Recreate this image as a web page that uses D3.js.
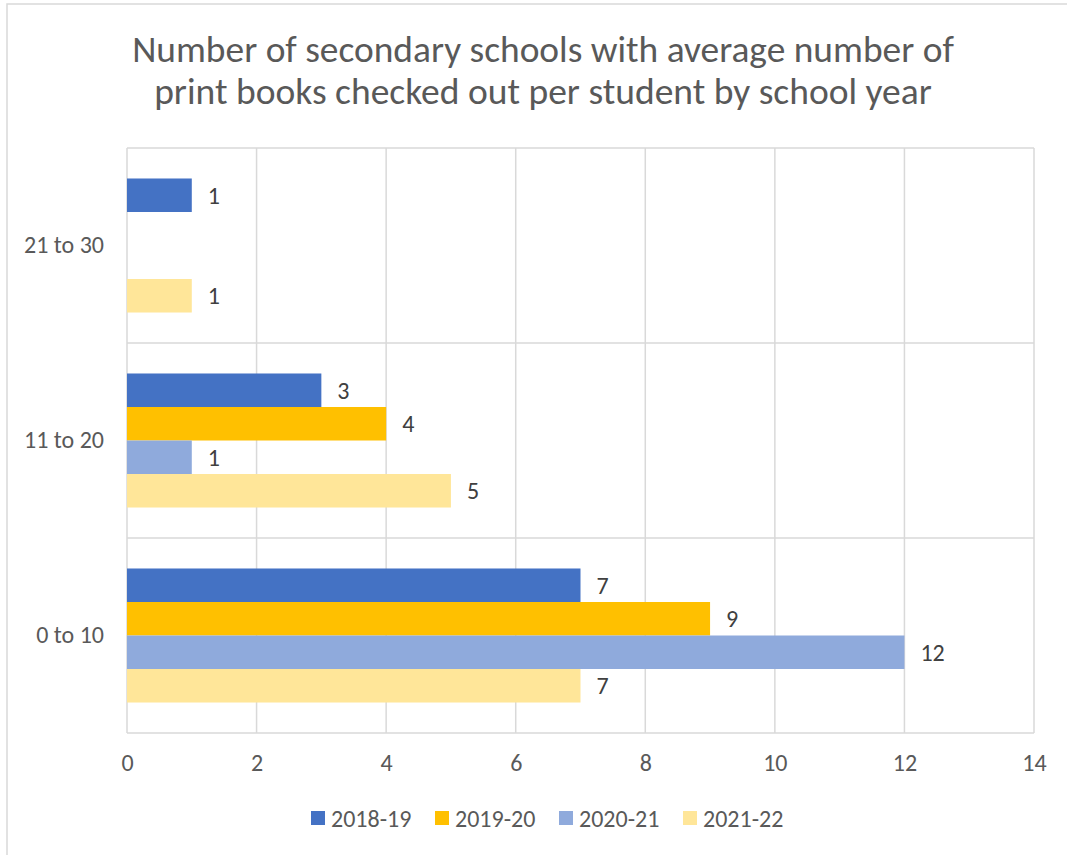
<!DOCTYPE html>
<html>
  <head>
    <meta http-equiv="Content-Type" content="text/html;charset=utf-8">
    <title>Print books per student</title>
    <script src="https://d3js.org/d3.v7.min.js"></script>
    <style type="text/css">
body {
    margin: 0;
    background: #fff;
}
text {
    font-family: Carlito, Calibri, "Open Sans", sans-serif;
}
.grid line {
    stroke: #d9d9d9;
    stroke-width: 1.5px;
}
    </style>
  </head>
  <body>
    <script type="text/javascript">
// data
var categories = ['21 to 30', '11 to 20', '0 to 10'],
    seriesNames = ['2018-19', '2019-20', '2020-21', '2021-22'],
    seriesColors = ['#4472C4', '#FFC000', '#8FAADC', '#FFE699'],
    xTicks = [0, 2, 4, 6, 8, 10, 12, 14],
    titleLines = ['Number of secondary schools with average number of',
                  'print books checked out per student by school year'];

// one value per category (in category order) for each series; null = no bar
var v2018 = [1, 3, 7],
    v2019 = [null, 4, 9],
    v2020 = [null, 1, 12],
    v2021 = [1, 5, 7];
var seriesValues = [v2018, v2019, v2020, v2021];

// layout
var W = 1067,
    H = 855,
    plotLeft = 127,
    plotRight = 1034,
    plotTop = 148,
    plotBottom = 733,
    labelSize = 24;

var svg = d3.select('body').append('svg')
    .attr('width', W)
    .attr('height', H);

svg.append('rect')
    .attr('x', 7)
    .attr('y', 4)
    .attr('width', 1080)
    .attr('height', 880)
    .attr('fill', '#fff')
    .attr('stroke', '#d9d9d9')
    .attr('stroke-width', 1.5);

// title, shrunk to the width it takes in the reference if needed
var title = svg.append('g');
titleLines.forEach(function(line, i) {
    var t = title.append('text')
        .attr('x', 543)
        .attr('y', 62 + i * 42)
        .attr('text-anchor', 'middle')
        .attr('fill', '#595959')
        .attr('font-size', 42)
        .text(line);
    var len = t.node().getComputedTextLength();
    var target = i === 0 ? 822 : 778;
    if (len > target) t.attr('font-size', 42 * target / len);
});

var x = d3.scaleLinear()
    .domain([0, 14])
    .range([plotLeft, plotRight]);

var y = d3.scaleBand()
    .domain(categories)
    .range([plotTop, plotBottom]);

var ySeries = d3.scaleBand()
    .domain(seriesNames)
    .range([0, y.bandwidth()])
    .paddingInner(0)
    .paddingOuter(0.91);

// grid: vertical lines at ticks, horizontal lines at category edges
var grid = svg.append('g').attr('class', 'grid');
grid.selectAll('line.v')
    .data(xTicks)
  .enter().append('line')
    .attr('class', 'v')
    .attr('x1', function(d) { return x(d); })
    .attr('x2', function(d) { return x(d); })
    .attr('y1', plotTop)
    .attr('y2', plotBottom);
grid.selectAll('line.h')
    .data(categories.concat(['end']))
  .enter().append('line')
    .attr('class', 'h')
    .attr('x1', plotLeft)
    .attr('x2', plotRight)
    .attr('y1', function(d, i) { return plotTop + i * y.step(); })
    .attr('y2', function(d, i) { return plotTop + i * y.step(); });

// bars
var groups = svg.selectAll('g.series')
    .data(seriesNames)
  .enter().append('g')
    .attr('class', 'series')
    .attr('fill', function(d, i) { return seriesColors[i]; });

groups.each(function(name, si) {
    var rows = categories.map(function(c, ci) {
        return { cat: c, value: seriesValues[si][ci] };
    }).filter(function(d) { return d.value != null; });

    var g = d3.select(this);
    g.selectAll('rect')
        .data(rows)
      .enter().append('rect')
        .attr('x', x(0))
        .attr('y', function(d) { return y(d.cat) + ySeries(name); })
        .attr('width', function(d) { return x(d.value) - x(0); })
        .attr('height', ySeries.bandwidth());

    g.selectAll('text')
        .data(rows)
      .enter().append('text')
        .attr('x', function(d) { return x(d.value) + 16; })
        .attr('y', function(d) { return y(d.cat) + ySeries(name) + ySeries.bandwidth() / 2; })
        .attr('dy', '0.36em')
        .attr('fill', '#404040')
        .attr('font-size', labelSize)
        .text(function(d) { return d.value; });
});

// x axis labels
var xAxis = svg.append('g')
    .attr('transform', 'translate(0,' + plotBottom + ')')
    .call(d3.axisBottom(x).tickValues(xTicks).tickSize(0).tickPadding(21));
xAxis.select('.domain').remove();
xAxis.selectAll('text')
    .attr('fill', '#595959')
    .attr('font-size', labelSize)
    .attr('font-family', null);

// y axis labels
var yAxis = svg.append('g')
    .attr('transform', 'translate(' + plotLeft + ',0)')
    .call(d3.axisLeft(y).tickSize(0).tickPadding(23));
yAxis.select('.domain').remove();
yAxis.selectAll('text')
    .attr('fill', '#595959')
    .attr('font-size', labelSize)
    .attr('font-family', null);

// legend
var legend = svg.selectAll('g.legend')
    .data(seriesNames)
  .enter().append('g')
    .attr('class', 'legend')
    .attr('transform', function(d, i) { return 'translate(' + (311 + i * 124) + ',811)'; });
legend.append('rect')
    .attr('width', 14)
    .attr('height', 14)
    .attr('fill', function(d, i) { return seriesColors[i]; });
legend.append('text')
    .attr('x', 20)
    .attr('y', 7)
    .attr('dy', '0.36em')
    .attr('fill', '#595959')
    .attr('font-size', labelSize)
    .text(function(d) { return d; });
    </script>
  </body>
</html>
